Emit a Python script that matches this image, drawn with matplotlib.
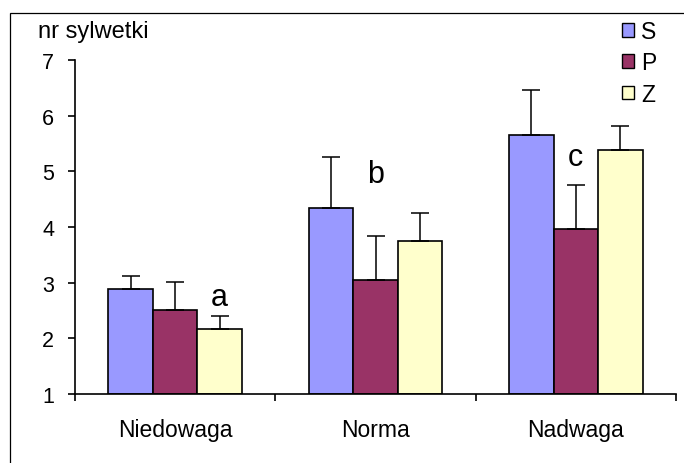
import numpy as np
import matplotlib
matplotlib.use("Agg")
import matplotlib.pyplot as plt
from matplotlib.patches import Rectangle, Patch

plt.rcParams['font.family'] = ['Liberation Sans', 'DejaVu Sans']

categories = ['Niedowaga', 'Norma', 'Nadwaga']
series = ['S', 'P', 'Z']
S_vals = [2.88, 4.35, 5.66]
P_vals = [2.51, 3.05, 3.96]
Z_vals = [2.17, 3.75, 5.39]
S_err = [0.24, 0.91, 0.81]
P_err = [0.50, 0.78, 0.80]
Z_err = [0.24, 0.50, 0.43]
# letter, category index, series index, baseline y
letters = [('a', 0, 2, 2.60), ('b', 1, 1, 4.80), ('c', 2, 1, 5.12)]

colors = ['#9999FF', '#993366', '#FFFFCC']
W, H = 684, 464

fig = plt.figure(figsize=(W / 100, H / 100), dpi=100)
fig.patches.append(Rectangle((10 / W, -0.1), 1.2, 1 - 14 / H + 0.1,
                             transform=fig.transFigure, fill=False,
                             edgecolor='black', linewidth=0.9))

ax = fig.add_axes([75 / W, 1 - 395 / H, (676 - 75) / W, (395 - 61) / H])

x = np.arange(len(categories))
bw = 0.222
vals = [S_vals, P_vals, Z_vals]
errs = [S_err, P_err, Z_err]
for i in range(3):
    v = np.array(vals[i])
    e = np.array(errs[i])
    ax.bar(x + (i - 1) * bw, v - 1, bottom=1, width=bw, color=colors[i],
           edgecolor='black', linewidth=1.2, label=series[i], zorder=2)
    ax.errorbar(x + (i - 1) * bw, v, yerr=[np.zeros_like(e), e], fmt='none',
                ecolor='black', elinewidth=1.1, capsize=6.5, capthick=1.1, zorder=3)

for t, ci, si, yv in letters:
    ax.text(x[ci] + (si - 1) * bw, yv, t, ha='center', va='baseline', fontsize=22)

ax.set_xlim(-0.5, 2.5)
ax.set_ylim(1, 7)
ax.set_yticks(range(1, 8))
ax.set_xticks([-0.5, 0.5, 1.5, 2.5])
ax.set_xticklabels([])
ax.set_xticks(x, minor=True)
ax.set_xticklabels(categories, minor=True)
ax.tick_params(axis='x', which='minor', length=0, pad=17, labelsize=16.5)
ax.tick_params(axis='x', which='major', length=5, width=1.2, direction='out')
ax.tick_params(axis='y', length=5, width=1.2, pad=10, labelsize=15.5)
for s in ['top', 'right']:
    ax.spines[s].set_visible(False)
for s in ['left', 'bottom']:
    ax.spines[s].set_linewidth(1.2)
ax.set_facecolor('none')

fig.text(38 / W, 1 - 38 / H, 'nr sylwetki', ha='left', va='baseline', fontsize=17)

handles = [Patch(facecolor=colors[i], edgecolor='black', linewidth=1.0) for i in range(3)]
fig.legend(handles, series, loc='upper left', bbox_to_anchor=(622 / W, 1 - 21 / H),
           frameon=False, borderpad=0, borderaxespad=0, handlelength=0.52,
           handleheight=0.52, handletextpad=0.3, labelspacing=0.36, fontsize=16.5)

fig.savefig('out.png', dpi=100)
